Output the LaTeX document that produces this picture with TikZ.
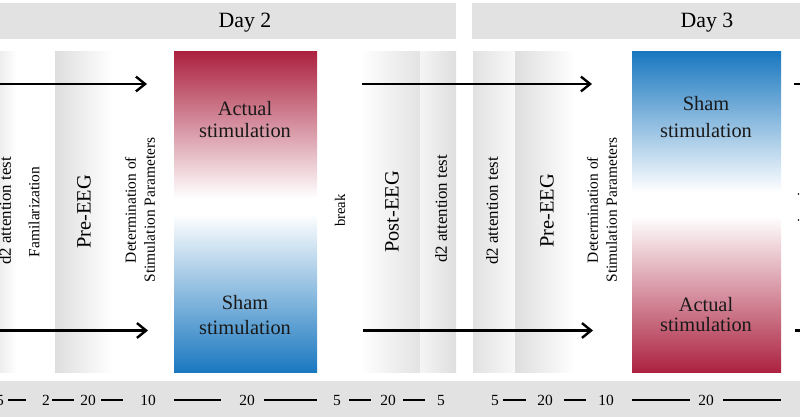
\documentclass[tikz,border=0pt]{standalone}
\usepackage{fontspec}
\setmainfont{Liberation Serif}
\usetikzlibrary{arrows.meta}
\definecolor{bandgrey}{HTML}{E2E2E2}
\definecolor{stripgrey}{HTML}{DEDEDE}
\definecolor{actualred}{HTML}{AC2240}
\definecolor{shamblue}{HTML}{1A78C0}
\tikzset{
  flowarrow/.style={line width=1.5pt,-{Straight Barb[length=6.5pt,width=10.5pt,line width=1.7pt]}},
  timedash/.style={line width=1.1pt},
  stimlabel/.style={align=center,text=black!90},
  daylabel/.style={font=\fontsize{15.5}{17}\selectfont},
  eeglabel/.style={font=\fontsize{14.5}{16}\selectfont,rotate=90},
  sidelabel/.style={font=\fontsize{12}{13.5}\selectfont,rotate=90,align=center},
  paramlabel/.style={sidelabel,font=\fontsize{11}{13.5}\selectfont},
  minutes/.style={font=\fontsize{11}{12}\selectfont}
}
\begin{document}
\begin{tikzpicture}[x=0.025cm,y=-0.025cm]
  \useasboundingbox (0,0) rectangle (800,419);

  % header and time bar
  \fill[bandgrey] (0,3) rectangle (456,39);
  \fill[bandgrey] (472,3) rectangle (800,39);
  \fill[bandgrey] (0,381) rectangle (800,417);
  \node[daylabel] (day2) at (245,23) {Day 2};
  \node[daylabel] (day3) at (707,23) {Day 3};

  % grey strips
  \shade[left color=stripgrey!50,right color=white] (0,52) rectangle (17,372);
  \shade[left color=stripgrey,right color=white] (55,52) rectangle (112,372);
  \shade[left color=white,right color=stripgrey!85] (360,52) rectangle (420,372);
  \shade[left color=stripgrey!30,right color=stripgrey] (420,52) rectangle (456,372);
  \shade[left color=stripgrey!90,right color=stripgrey!20] (473,52) rectangle (515,372);
  \shade[left color=stripgrey,right color=white] (515,52) rectangle (575,372);

  % stimulation blocks
  \shade[top color=actualred,bottom color=white] (174,52) rectangle (317,198);
  \fill[white] (174,198) rectangle (317,214);
  \shade[top color=white,bottom color=shamblue] (174,214) rectangle (317,372);
  \shade[top color=shamblue,bottom color=white] (632,52) rectangle (781,192);
  \fill[white] (632,192) rectangle (781,216);
  \shade[top color=white,bottom color=actualred] (632,216) rectangle (781,372);
  \node[stimlabel,font=\fontsize{14.5}{15}\selectfont] (actual2) at (245,119.5) {Actual\\stimulation};
  \node[stimlabel,font=\fontsize{14.5}{17.8}\selectfont] (sham2) at (245,315) {Sham\\stimulation};
  \node[stimlabel,font=\fontsize{14.5}{19.2}\selectfont] (sham3) at (706,117) {Sham\\stimulation};
  \node[stimlabel,font=\fontsize{14.5}{14.2}\selectfont] (actual3) at (706,315) {Actual\\stimulation};

  % rotated labels
  \node[sidelabel] (d2a) at (5,211) {d2 attention test};
  \node[sidelabel,font=\fontsize{11}{13}\selectfont] (fam) at (34,212) {Familarization};
  \node[eeglabel] (pre2) at (84,212) {Pre-EEG};
  \node[paramlabel] (param2) at (140,210) {Determination of\\Stimulation Parameters};
  \node[sidelabel,font=\fontsize{10.5}{12}\selectfont] (break) at (340,210.5) {break};
  \node[eeglabel] (post) at (392,212) {Post-EEG};
  \node[sidelabel] (d2b) at (441,209) {d2 attention test};
  \node[sidelabel] (d2c) at (492,211) {d2 attention test};
  \node[eeglabel] (pre3) at (547,211) {Pre-EEG};
  \node[paramlabel] (param3) at (602,210) {Determination of\\Stimulation Parameters};

  % arrows
  \coordinate (a1) at (0,84);
  \coordinate (a2) at (147,84);
  \coordinate (a3) at (362,84);
  \coordinate (a4) at (592,84);
  \coordinate (b1) at (0,330.5);
  \coordinate (b2) at (148,330.5);
  \coordinate (b3) at (363,330.5);
  \coordinate (b4) at (593,330.5);
  \coordinate (c1) at (794,84);
  \coordinate (c2) at (800,84);
  \coordinate (d1) at (795,330.5);
  \coordinate (d2) at (800,330.5);
  \draw[flowarrow] (a1) -- (a2);
  \draw[flowarrow] (a3) -- (a4);
  \draw[flowarrow] (b1) -- (b2);
  \draw[flowarrow] (b3) -- (b4);
  \draw[line width=1.5pt] (c1) -- (c2);
  \draw[line width=1.5pt] (d1) -- (d2);
  \fill (798.5,194) circle (0.8);
  \fill (798.5,220) circle (0.8);

  % time bar
  \node[minutes] (t1) at (0,400.5) {5};
  \node[minutes] (t2) at (46,400.5) {2};
  \node[minutes] (t3) at (88,400.5) {20};
  \node[minutes] (t4) at (148,400.5) {10};
  \node[minutes] (t5) at (247,400.5) {20};
  \node[minutes] (t6) at (337,400.5) {5};
  \node[minutes] (t7) at (388,400.5) {20};
  \node[minutes] (t8) at (441,400.5) {5};
  \node[minutes] (t9) at (495,400.5) {5};
  \node[minutes] (t10) at (545,400.5) {20};
  \node[minutes] (t11) at (606,400.5) {10};
  \node[minutes] (t12) at (706,400.5) {20};
  \draw[timedash] (8,400) -- (26,400);
  \draw[timedash] (52,400) -- (74,400);
  \draw[timedash] (101,400) -- (123,400);
  \draw[timedash] (174,400) -- (221,400);
  \draw[timedash] (264,400) -- (317,400);
  \draw[timedash] (349,400) -- (371,400);
  \draw[timedash] (403,400) -- (425,400);
  \draw[timedash] (503,400) -- (526,400);
  \draw[timedash] (564,400) -- (586,400);
  \draw[timedash] (632,400) -- (690,400);
  \draw[timedash] (723,400) -- (781,400);
\end{tikzpicture}
\end{document}
